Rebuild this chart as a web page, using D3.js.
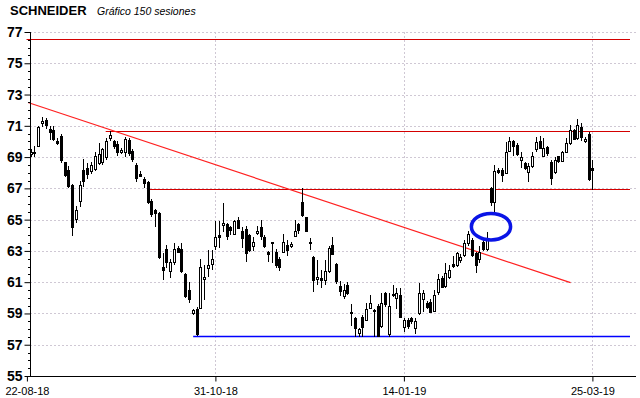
<!DOCTYPE html>
<html>
<head>
<meta charset="utf-8">
<script src="https://cdnjs.cloudflare.com/ajax/libs/d3/7.8.5/d3.min.js"></script>
<style>
  body { margin: 0; background: #fff; }
  svg { display: block; font-family: "Liberation Sans", Arial, sans-serif; }
</style>
</head>
<body>
<div id="chart"></div>
<script>
// OHLC for the 150 sessions
var opens  = [69.25,69.35,69.7,71.2,71.35,70.8,70.75,70.05,70.35,68.7,68.2,67.2,65.0,66.2,68.2,68.3,68.1,68.3,68.6,68.7,
              69.0,70.2,70.0,69.85,69.3,69.3,70.1,69.4,68.5,67.95,67.6,67.4,66.2,65.6,65.4,62.0,63.1,61.7,62.3,63.2,
              63.1,61.5,60.5,59.0,59.3,59.4,61.25,61.9,62.15,63.3,64.0,64.7,64.75,64.5,64.1,65.0,64.3,64.4,64.0,63.3,
              64.15,64.5,63.9,62.95,63.55,62.95,62.5,62.95,63.4,63.35,64.0,64.7,66.1,65.2,63.55,62.6,61.2,61.25,61.15,61.7,
              63.4,62.15,60.75,60.1,60.8,59.1,58.7,57.75,58.8,58.6,59.4,59.2,59.5,58.25,60.3,57.7,60.25,60.0,60.2,58.15,
              58.6,58.7,58.05,59.0,59.9,59.7,59.75,59.2,60.4,61.25,60.75,61.35,62.15,62.1,62.4,62.75,63.5,63.7,62.85,62.45,
              63.6,63.15,67.0,66.1,68.2,68.2,68.0,69.35,70.05,69.75,68.8,68.65,68.0,68.4,69.5,70.05,69.1,69.65,68.7,68.05,
              69.05,68.8,69.35,69.9,70.75,70.2,70.95,70.0,70.5,68.3];
var highs  = [69.5,69.7,71.0,71.55,71.5,71.0,71.0,70.2,70.5,68.7,68.4,67.3,65.9,67.5,68.9,68.6,68.7,69.3,69.9,69.6,
              70.2,70.7,70.1,70.0,69.6,70.3,70.2,69.5,68.6,68.1,67.7,67.5,66.3,65.7,65.5,62.85,63.4,62.5,63.5,63.3,
              63.5,61.6,61.0,59.3,59.4,62.5,62.1,63.05,63.05,64.9,64.9,66.05,64.8,64.6,65.0,65.15,64.5,64.6,64.1,63.9,
              64.6,65.0,64.0,63.0,63.55,63.1,62.6,64.1,63.7,63.6,65.0,64.8,67.0,65.2,63.8,62.7,62.4,61.8,62.4,63.3,
              63.9,62.2,61.05,60.9,61.0,59.6,58.8,58.1,58.9,59.7,60.2,59.3,59.6,60.3,60.4,60.3,60.8,60.6,60.6,58.7,
              58.7,58.8,58.7,60.95,60.5,59.8,59.9,60.5,61.5,61.4,62.2,62.1,62.65,62.9,62.8,63.7,64.3,63.8,62.9,63.3,
              63.7,64.2,67.1,68.5,68.3,68.3,69.95,70.3,70.1,69.9,69.3,68.7,68.6,69.3,70.3,70.35,70.2,69.7,68.8,69.0,
              69.1,69.4,70.2,71.05,70.8,71.45,71.2,70.3,70.6,68.8];
var lows   = [69.0,69.0,69.7,70.9,70.8,70.1,70.0,69.8,68.6,67.7,67.0,63.95,64.8,65.8,67.1,67.6,67.9,68.1,68.5,68.5,
              68.8,70.0,69.5,69.1,69.2,69.0,69.1,68.7,67.4,67.7,67.0,66.0,65.2,64.5,62.5,61.15,61.9,61.25,62.1,62.9,
              61.6,60.0,59.65,58.9,57.55,59.3,59.85,61.35,61.8,63.05,63.2,64.2,63.7,64.0,64.0,64.4,63.2,62.3,62.9,63.0,
              64.0,63.7,63.2,62.3,62.2,61.9,61.7,62.9,62.7,63.2,63.9,64.1,65.2,64.2,63.05,60.4,60.8,60.6,60.8,61.6,
              62.75,60.9,60.1,59.9,60.2,58.2,57.5,57.5,57.5,58.5,59.3,57.5,57.5,58.1,59.4,57.5,60.05,59.3,58.7,57.8,
              58.0,58.3,57.7,58.9,59.1,59.3,59.0,59.1,60.2,60.6,60.6,61.2,61.9,62.0,62.2,62.6,63.3,62.6,61.6,62.2,
              63.0,63.0,65.9,65.3,67.95,67.4,67.9,69.3,69.1,69.1,68.3,68.2,67.4,68.3,69.3,69.5,69.0,69.1,67.2,67.9,
              68.6,68.7,69.3,69.8,70.1,70.1,70.0,69.9,67.5,66.9];
var closes = [69.35,69.3,70.9,71.3,71.0,70.6,70.2,69.95,68.8,67.9,67.2,64.5,65.6,67.2,67.5,67.9,68.5,69.1,69.2,69.5,
              70.0,70.4,69.7,69.35,69.45,70.15,69.3,68.9,67.7,67.85,67.35,66.1,65.4,65.4,62.6,61.8,62.3,62.3,63.1,62.95,
              61.7,60.1,59.9,59.2,57.7,62.0,61.35,62.1,62.5,63.9,63.85,64.8,64.0,64.3,64.9,64.5,63.85,62.85,63.05,63.55,
              64.3,63.9,63.3,62.85,63.5,62.1,62.0,63.6,63.05,63.45,64.3,64.3,65.3,64.3,63.5,61.1,61.35,61.1,61.7,63.2,
              62.85,61.05,60.4,60.5,60.3,59.1,58.05,58.0,58.15,59.3,59.7,59.15,57.6,59.7,59.6,59.5,60.2,60.3,58.8,58.6,
              58.2,58.5,58.5,60.3,60.3,59.45,59.1,60.2,61.2,60.7,61.6,61.8,62.0,62.85,62.6,63.5,64.1,62.75,62.1,62.9,
              63.15,63.7,66.1,68.1,68.1,67.85,69.35,70.0,69.7,69.2,69.0,68.35,68.4,69.05,69.95,69.6,69.6,69.25,67.65,68.8,
              68.7,69.35,69.9,70.75,70.2,71.05,70.3,70.15,67.65,68.2];

// axis labels
var yTicks = [55, 57, 59, 61, 63, 65, 67, 69, 71, 73, 75, 77];
var dateLabels = ["22-08-18", "31-10-18", "14-01-19", "25-03-19"];
var dateIndex = [-1, 49, 99, 149];

// drawn lines: support / resistance levels and the falling trend line
var redLevels = [{ from: -1.1, value: 76.55 }, { from: 19.9, value: 70.67 }, { from: 31.1, value: 66.96 }];
var blueLevel = { from: 43.1, value: 57.56 };
var trendLine = [{ i: -0.7, v: 72.49 }, { i: 143.2, v: 60.97 }];
var gapMark = { i: 122.1, v: 64.55, ri: 5.2, rv: 0.85 };

var data = opens.map(function(o, i) {
  return { i: i, o: o, h: highs[i], l: lows[i], c: closes[i] };
});

var width = 640, height = 398;
var plotLeft = 30, plotRight = 636, plotTop = 32, plotBottom = 376;

var svg = d3.select('#chart')
  .append('svg')
  .attr('width', width)
  .attr('height', height);

var x = d3.scaleLinear().domain([-1, 149]).range([26.9, 592.4]);
var y = d3.scaleLinear().domain([55, 77]).range([plotBottom, plotTop]);

// grid
var grid = svg.append('g').attr('class', 'grid');
grid.selectAll('line.h')
  .data(yTicks.slice(1))
  .enter()
  .append('line')
  .attr('x1', plotLeft).attr('x2', plotRight)
  .attr('y1', function(d) { return Math.round(y(d)) + 0.5; })
  .attr('y2', function(d) { return Math.round(y(d)) + 0.5; })
  .attr('stroke', '#cfc8d4')
  .attr('stroke-dasharray', '2,2');
grid.selectAll('line.v')
  .data(dateIndex.slice(1))
  .enter()
  .append('line')
  .attr('x1', function(d) { return Math.round(x(d)) + 0.5; })
  .attr('x2', function(d) { return Math.round(x(d)) + 0.5; })
  .attr('y1', plotTop).attr('y2', plotBottom)
  .attr('stroke', '#cfc8d4')
  .attr('stroke-dasharray', '2,2');

// level lines
svg.selectAll('line.level')
  .data(redLevels)
  .enter()
  .append('line')
  .attr('x1', function(d) { return x(d.from); })
  .attr('x2', 630)
  .attr('y1', function(d) { return Math.round(y(d.value)) + 0.5; })
  .attr('y2', function(d) { return Math.round(y(d.value)) + 0.5; })
  .attr('stroke', '#d40000')
  .attr('stroke-width', 1.2);

svg.append('line')
  .attr('x1', x(blueLevel.from)).attr('x2', 630)
  .attr('y1', Math.round(y(blueLevel.value)) + 0.5)
  .attr('y2', Math.round(y(blueLevel.value)) + 0.5)
  .attr('stroke', '#0000ff')
  .attr('stroke-width', 1.6);

svg.append('path')
  .datum(trendLine)
  .attr('d', d3.line().x(function(d) { return x(d.i); }).y(function(d) { return y(d.v); }))
  .attr('stroke', '#ff2020')
  .attr('stroke-width', 1.2)
  .attr('fill', 'none');

// candles
var candle = svg.append('g')
  .attr('shape-rendering', 'crispEdges')
  .selectAll('g')
  .data(data)
  .enter()
  .append('g');

candle.append('line')
  .attr('x1', function(d) { return Math.round(x(d.i)) + 0.5; })
  .attr('x2', function(d) { return Math.round(x(d.i)) + 0.5; })
  .attr('y1', function(d) { return Math.round(y(d.h)); })
  .attr('y2', function(d) { return Math.round(y(d.l)); })
  .attr('stroke', '#000');

candle.append('rect')
  .attr('x', function(d) { return Math.round(x(d.i)) - 0.5; })
  .attr('width', 2)
  .attr('y', function(d) { return Math.round(y(Math.max(d.o, d.c))) + 0.5; })
  .attr('height', function(d) { return Math.max(1, Math.round(Math.abs(y(d.o) - y(d.c)))); })
  .attr('fill', function(d) { return d.c >= d.o ? '#fff' : '#000'; })
  .attr('stroke', '#000')
  .attr('stroke-width', 1);

// gap marker
svg.append('ellipse')
  .attr('cx', x(gapMark.i))
  .attr('cy', y(gapMark.v))
  .attr('rx', x(gapMark.ri) - x(0))
  .attr('ry', y(gapMark.v - gapMark.rv) - y(gapMark.v))
  .attr('fill', 'none')
  .attr('stroke', '#0a14e6')
  .attr('stroke-width', 3.5);

// y axis
var yAxis = d3.axisLeft(y)
  .tickValues(yTicks)
  .tickSize(6)
  .tickFormat(d3.format('d'));
var ya = svg.append('g')
  .attr('transform', 'translate(' + (plotLeft + 0.5) + ',0)')
  .call(yAxis);
ya.select('.domain').attr('d', 'M0,' + plotTop + 'V' + plotBottom).attr('stroke', '#000');
ya.selectAll('text')
  .attr('x', -8)
  .style('font-size', '14px')
  .style('font-weight', 'bold')
  .attr('fill', '#000');

// minor ticks
var minor = d3.range(55, 77.01, 0.5).filter(function(d) { return d % 2 !== 1; });
svg.append('g').selectAll('line')
  .data(minor)
  .enter()
  .append('line')
  .attr('x1', plotLeft - 2).attr('x2', plotLeft)
  .attr('y1', function(d) { return Math.round(y(d)) + 0.5; })
  .attr('y2', function(d) { return Math.round(y(d)) + 0.5; })
  .attr('stroke', '#000');

// x axis
var xAxis = d3.axisBottom(x)
  .tickValues(dateIndex)
  .tickSize(5)
  .tickFormat(function(d, k) { return dateLabels[k]; });
var xa = svg.append('g')
  .attr('transform', 'translate(0,' + (plotBottom + 0.5) + ')')
  .call(xAxis);
xa.select('.domain').attr('d', 'M' + plotLeft + ',0H' + plotRight).attr('stroke', '#000');
xa.selectAll('text')
  .attr('y', 11)
  .style('font-size', '11px')
  .attr('fill', '#000');

// title
svg.append('text')
  .attr('x', 10).attr('y', 15)
  .style('font-size', '13px')
  .style('font-weight', 'bold')
  .text('SCHNEIDER');
svg.append('text')
  .attr('x', 97).attr('y', 15)
  .style('font-size', '10.5px')
  .style('font-style', 'italic')
  .text('Gráfico 150 sesiones');
</script>
</body>
</html>
